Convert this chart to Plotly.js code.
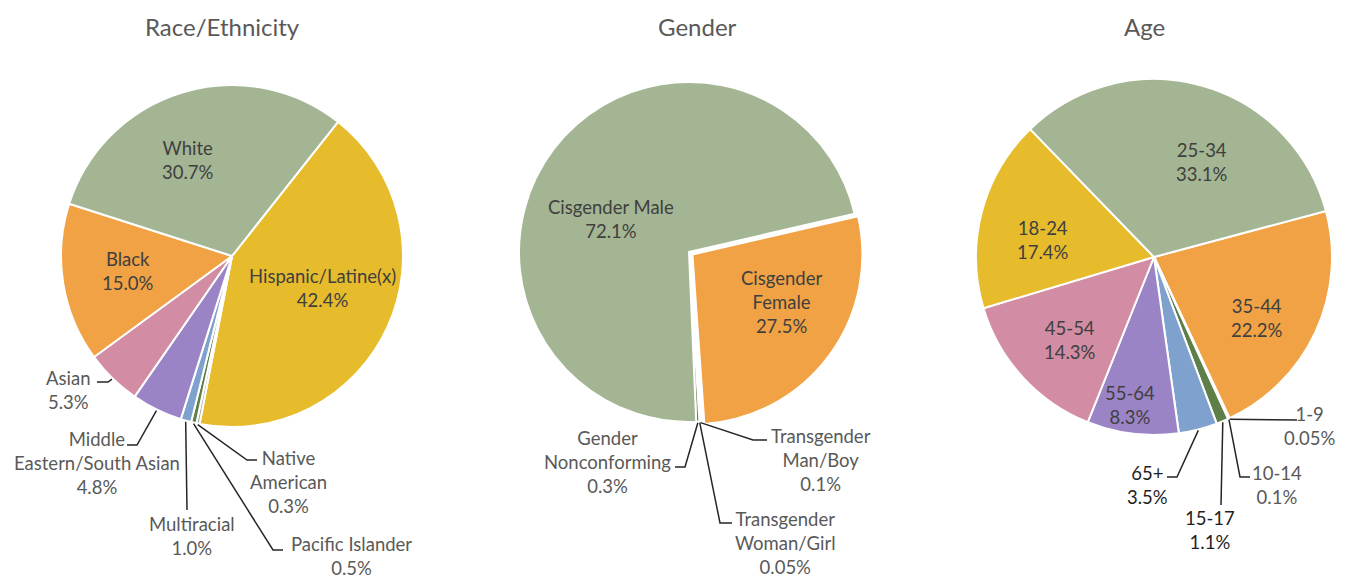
<!DOCTYPE html>
<html>
<head>
<meta charset="utf-8">
<script src="https://cdn.plot.ly/plotly-3.0.1.min.js"></script>
<style>
  html, body { margin: 0; padding: 0; background: #fff; }
  #chart { width: 1348px; height: 578px; }
</style>
</head>
<body>
<div id="chart"></div>
<script>
// data, in clockwise slice order
const raceLabels = ['Hispanic/Latine(x)', 'Native American', 'Pacific Islander', 'Multiracial',
  'Middle Eastern/South Asian', 'Asian', 'Black', 'White'];
const raceText = ['Hispanic/Latine(x)', 'Native<br>American', 'Pacific Islander', 'Multiracial',
  'Middle<br>Eastern/South Asian', 'Asian', 'Black', 'White'];
const raceValues = [42.4, 0.3, 0.5, 1.0, 4.8, 5.3, 15.0, 30.7];

const genderLabels = ['Cisgender Female', 'Transgender Man/Boy', 'Transgender Woman/Girl',
  'Gender Nonconforming', 'Cisgender Male'];
const genderText = ['Cisgender<br>Female', 'Transgender<br>Man/Boy', 'Transgender<br>Woman/Girl',
  'Gender<br>Nonconforming', 'Cisgender Male'];
const genderValues = [27.5, 0.1, 0.05, 0.3, 72.1];

const ageLabels = ['35-44', '1-9', '10-14', '15-17', '65+', '55-64', '45-54', '18-24', '25-34'];
const ageValues = [22.2, 0.05, 0.1, 1.1, 3.5, 8.3, 14.3, 17.4, 33.1];

// colours
const GREEN = '#a3b592', ORANGE = '#f1a244', YELLOW = '#e6bc2c', PINK = '#d28ca3',
  PURPLE = '#9b84c6', BLUE = '#7ea2cd', DKGREEN = '#5f7f48', GREY = '#a5a5a5';
const INNER = '#3f3f3f', OUTER = '#595959', DARK = '#1f1f1f';

const W = 1348, H = 578;
const px = x => x / W;
const py = y => 1 - y / H;

// layout of each pie: centre/radius in pixels, label centres and leader bends
const pies = [
  {
    title: 'Race/Ethnicity', titleX: 222,
    labels: raceLabels, text: raceText, values: raceValues,
    colors: [YELLOW, GREY, DKGREEN, BLUE, PURPLE, PINK, ORANGE, GREEN],
    cx: 232, cy: 256, r: 171, rotation: 38.3,
    pull: [0, 0, 0, 0, 0, 0, 0, 0],
    textColor: [INNER, OUTER, OUTER, OUTER, OUTER, OUTER, INNER, INNER],
    labelPos: [[322, 288], [288, 482], [351, 556], [192, 536], [97, 463], [68, 390], [128, 271], [188, 160]],
    leader: [null, [[247, 460], [257, 460]], [[273, 550], [283, 550]], [[187, 510]],
      [[137, 445], [127, 445]], [[108, 382], [97, 382]], null, null]
  },
  {
    title: 'Gender', titleX: 697,
    labels: genderLabels, text: genderText, values: genderValues,
    colors: [ORANGE, BLUE, PINK, DKGREEN, GREEN],
    cx: 689, cy: 252, r: 170, rotation: 77,
    pull: [0.025, 0, 0, 0, 0],
    textColor: [INNER, OUTER, OUTER, OUTER, INNER],
    labelPos: [[781, 302], [821, 460], [785, 543], [607, 462], [611, 219]],
    leader: [null, [[753, 440], [767, 440]], [[720, 523], [732, 523]], [[685, 467], [675, 467]], null]
  },
  {
    title: 'Age', titleX: 1144,
    labels: ageLabels, text: ageLabels, values: ageValues,
    colors: [ORANGE, GREY, BLUE, DKGREEN, BLUE, PURPLE, PINK, YELLOW, GREEN],
    cx: 1154, cy: 257, r: 178, rotation: 75,
    pull: [0, 0, 0, 0, 0, 0, 0, 0, 0],
    textColor: [INNER, OUTER, OUTER, DARK, DARK, INNER, INNER, INNER, INNER],
    labelPos: [[1257, 318], [1310, 426], [1277, 485], [1210, 530], [1147, 485], [1130, 405],
      [1070, 340], [1043, 240], [1202, 162]],
    leader: [null, [[1297, 420]], [[1240, 477], [1250, 477]], [[1221, 505]], [[1177, 477], [1167, 477]],
      null, null, null, null]
  }
];

function fmtPct(v) {
  return v.toFixed(v < 0.1 ? 2 : 1) + '%';
}

const FONT = 'Lato, "Open Sans", sans-serif';
const traces = [];
const annotations = [];
const shapes = [];

pies.forEach(p => {
  const maxPull = Math.max(...p.pull);
  const half = p.r * (1 + maxPull);
  traces.push({
    type: 'pie',
    labels: p.labels,
    values: p.values,
    sort: false,
    direction: 'clockwise',
    rotation: p.rotation,
    pull: p.pull,
    marker: { colors: p.colors, line: { color: '#ffffff', width: 2 } },
    textinfo: 'none',
    hoverinfo: 'none',
    showlegend: false,
    domain: { x: [px(p.cx - half), px(p.cx + half)], y: [py(p.cy + half), py(p.cy - half)] }
  });

  annotations.push({
    xref: 'paper', yref: 'paper', x: px(p.titleX), y: py(26),
    xanchor: 'center', yanchor: 'middle', showarrow: false,
    text: p.title, font: { family: FONT, size: 24, color: '#595959' }
  });

  const total = p.values.reduce((a, b) => a + b, 0);
  let cum = 0;
  p.values.forEach((v, i) => {
    const mid = (p.rotation + 360 * (cum + v / 2) / total) * Math.PI / 180;
    cum += v;
    annotations.push({
      xref: 'paper', yref: 'paper',
      x: px(p.labelPos[i][0]), y: py(p.labelPos[i][1]),
      xanchor: 'center', yanchor: 'middle', showarrow: false,
      text: p.text[i] + '<br>' + fmtPct(v),
      font: { family: FONT, size: 18.5, color: p.textColor[i] }
    });
    if (p.leader[i]) {
      const ax = p.cx + (p.r + 1) * Math.sin(mid);
      const ay = p.cy - (p.r + 1) * Math.cos(mid);
      let path = 'M' + px(ax) + ',' + py(ay);
      p.leader[i].forEach(pt => { path += ' L' + px(pt[0]) + ',' + py(pt[1]); });
      shapes.push({
        type: 'path', xref: 'paper', yref: 'paper', path: path,
        line: { color: '#262626', width: 1.5 }
      });
    }
  });
});

const layout = {
  width: W, height: H,
  margin: { l: 0, r: 0, t: 0, b: 0 },
  paper_bgcolor: '#ffffff',
  plot_bgcolor: '#ffffff',
  annotations: annotations,
  shapes: shapes
};

Plotly.newPlot('chart', traces, layout, { displayModeBar: false, staticPlot: true });
</script>
</body>
</html>
